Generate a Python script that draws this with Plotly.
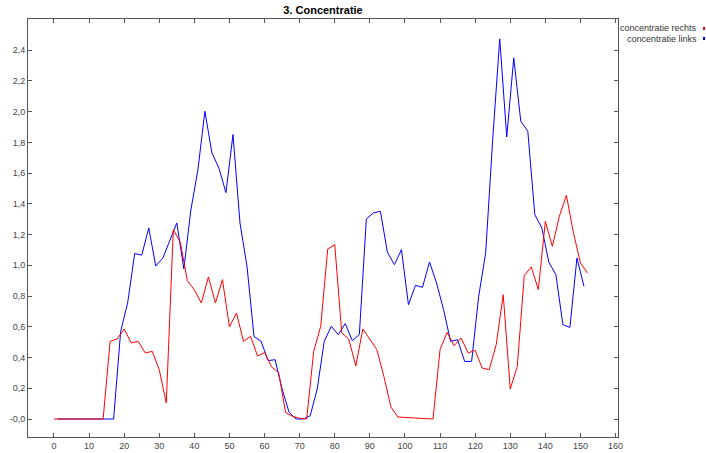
import plotly.graph_objects as go

# ---- data ----
red_x = list(range(0, 153, 2))
red_y = [0, 0, 0, 0, 0, 0, 0, 0,
         0.505, 0.521, 0.586, 0.495, 0.505, 0.43, 0.44, 0.32, 0.104, 1.232,
         1.15, 0.90, 0.84, 0.755, 0.925, 0.755, 0.907, 0.599, 0.69, 0.505,
         0.538, 0.41, 0.433, 0.339, 0.303, 0.043, 0.017, 0.005, 0, 0.44,
         0.603, 1.107, 1.134, 0.56, 0.52, 0.345, 0.586, 0.516, 0.451, 0.277,
         0.078, 0.013, 0.01, 0.007, 0.004, 0.002, 0, 0.451, 0.564, 0.477,
         0.527, 0.43, 0.447, 0.332, 0.321, 0.484, 0.809, 0.195, 0.342, 0.933,
         0.99, 0.842, 1.286, 1.124, 1.32, 1.456, 1.212, 1.016, 0.95]

blue_x = list(range(1, 154, 2))
blue_y = [0, 0, 0, 0, 0, 0, 0, 0, 0,
          0.57, 0.757, 1.077, 1.066, 1.243, 0.996, 1.046, 1.166, 1.276, 0.977,
          1.36, 1.62, 2.003, 1.731, 1.633, 1.473, 1.851, 1.276, 0.993, 0.537,
          0.506, 0.38, 0.386, 0.195, 0.043, 0, 0, 0.021, 0.195, 0.505,
          0.603, 0.549, 0.621, 0.51, 0.549, 1.302, 1.341, 1.352, 1.085, 1.004,
          1.102, 0.744, 0.87, 0.857, 1.022, 0.885, 0.712, 0.505, 0.516, 0.375,
          0.375, 0.798, 1.081, 1.818, 2.474, 1.835, 2.35, 1.938, 1.873, 1.33,
          1.243, 1.02, 0.94, 0.614, 0.596, 1.048, 0.864]

x_ticks = list(range(0, 161, 10))
y_ticks = [0, 0.2, 0.4, 0.6, 0.8, 1.0, 1.2, 1.4, 1.6, 1.8, 2.0, 2.2, 2.4]
y_tick_text = ["-0,0", "0,2", "0,4", "0,6", "0,8", "1,0", "1,2", "1,4",
               "1,6", "1,8", "2,0", "2,2", "2,4"]

series_names = ["concentratie rechts", "concentratie links"]
series_colors = ["#ff0000", "#0000ff"]

# ---- figure ----
W, H = 706, 453
ML, MR, MT, MB = 28, 88, 19, 16

fig = go.Figure()
fig.add_trace(go.Scatter(x=blue_x, y=blue_y, mode="lines", name=series_names[1],
                         line=dict(color=series_colors[1], width=1), showlegend=False))
fig.add_trace(go.Scatter(x=red_x, y=red_y, mode="lines", name=series_names[0],
                         line=dict(color=series_colors[0], width=1), showlegend=False))

font_family = "Liberation Sans, Arial, sans-serif"
axis_common = dict(showline=True, linecolor="#555555", linewidth=1, mirror="ticks",
                   ticks="inside", ticklen=4, tickcolor="#555555", tickwidth=1,
                   showgrid=False, zeroline=False, automargin=False,
                   tickfont=dict(family=font_family, size=9, color="#444444"))

fig.update_xaxes(range=[-7.4, 160.7], tickvals=x_ticks, **axis_common)
fig.update_yaxes(range=[-0.117, 2.603], tickvals=y_ticks, ticktext=y_tick_text, **axis_common)

pw = W - ML - MR
ph = H - MT - MB

def px_to_paper_x(px):
    return (px - ML) / pw

def px_to_paper_y(py):
    return (H - MB - py) / ph

annotations = []
shapes = []
legend_y = [28.5, 38.5]
for name, color, ly in zip(series_names, series_colors, legend_y):
    annotations.append(dict(text=name, xref="paper", yref="paper",
                            x=px_to_paper_x(699), y=px_to_paper_y(ly),
                            xanchor="right", yanchor="middle", showarrow=False,
                            font=dict(family=font_family, size=9, color="#333333")))
    shapes.append(dict(type="rect", xref="paper", yref="paper",
                       x0=px_to_paper_x(703), x1=px_to_paper_x(705),
                       y0=px_to_paper_y(ly + 1.5), y1=px_to_paper_y(ly - 1.5),
                       fillcolor=color, line=dict(width=0)))

fig.update_layout(
    width=W, height=H,
    margin=dict(l=ML, r=MR, t=MT, b=MB, pad=0, autoexpand=False),
    paper_bgcolor="white", plot_bgcolor="white",
    title=dict(text="<b>3. Concentratie</b>", x=(ML + pw / 2) / W, xanchor="center",
               y=1 - 10 / H, yanchor="middle",
               font=dict(family=font_family, size=11, color="#000000")),
    annotations=annotations, shapes=shapes,
    showlegend=False,
)

fig.write_html("out.html", config={"displayModeBar": False},
               post_script="document.body.style.margin='0';document.body.style.overflow='hidden';")
